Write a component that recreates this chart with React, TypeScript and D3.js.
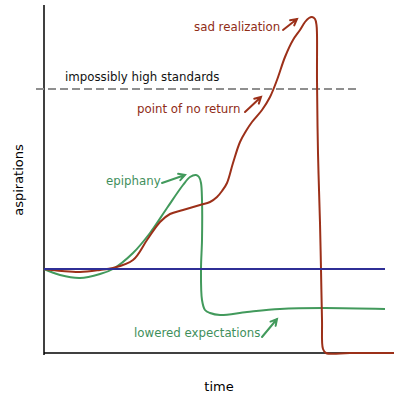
import { useEffect, useRef } from 'react';
import * as d3 from 'd3';

type Pt = [number, number];

// curves, in chart units (x = time, y = aspirations)
const REALITY: Pt[] = [
    [0, 84], [18, 82], [36, 81], [56, 83], [69, 85], [89, 93], [103, 113], [116, 131],
    [126, 139], [139, 143], [156, 148], [166, 151], [173, 156], [178, 162], [183, 170],
    [189, 190], [196, 211], [202, 222], [208, 231], [218, 243], [226, 256], [233, 273],
    [241, 296], [249, 313], [256, 323], [261, 331], [265, 335], [268, 336], [271, 334],
    [272.5, 328], [273, 318], [273, 273], [274, 200], [276, 130], [277, 84],
    [278, 33], [279, 4], [282, 0], [306, 0], [350, 0],
];
const HOPE: Pt[] = [
    [0, 84], [16, 78], [36, 75], [56, 79], [69, 84], [89, 100], [106, 120], [123, 145],
    [139, 168], [146, 176], [152, 178], [155, 176], [157, 170], [158, 153], [158, 113], [157, 84],
    [158, 53], [161, 43], [166, 40], [176, 38], [203, 41], [236, 44], [279, 45], [341, 44],
];
const BASELINE: Pt[] = [[0, 84], [341, 84]];
const STANDARDS: Pt[] = [[-8, 264], [314, 264]];

const LABELS = ['sad realization', 'impossibly high standards', 'point of no return', 'epiphany', 'lowered expectations'];
const LABEL_POS: Pt[] = [[150, 322], [21, 272], [93, 240], [62, 168], [90, 16]];
const LABEL_COLORS = ['#8f2c16', '#111', '#8f2c16', '#3f8f5c', '#3f8f5c'];
const ARROW_COLORS = ['#9c3019', '', '#9c3019', '#429a5c', '#429a5c'];
const ARROWS: ([Pt, Pt] | null)[] = [
    [[239, 323], [253, 334]], null, [[201, 241], [217, 256]], [[118, 170], [141, 178]], [[218, 16], [233, 34]],
];

const RED = '#9c3019';
const GREEN = '#429a5c';
const BLUE = '#2f2f96';

export default function App() {
    const svgRef = useRef<SVGSVGElement>(null);
    const W = 400, H = 400;

    useEffect(() => {
        if (!svgRef.current) return;
        const svg = d3.select(svgRef.current);
        svg.selectAll('*').remove();

        const x = d3.scaleLinear().domain([0, 350]).range([44, 394]);
        const y = d3.scaleLinear().domain([0, 348]).range([353, 5]);
        const line = d3.line<Pt>().x(d => x(d[0])).y(d => y(d[1]));
        const smooth = d3.line<Pt>().x(d => x(d[0])).y(d => y(d[1])).curve(d3.curveCatmullRom.alpha(0.5));
        const font = 'Verdana, "DejaVu Sans", sans-serif';

        // axes
        svg.append('path').attr('d', line([[0, 348], [0, -2]])).attr('stroke', '#000').attr('stroke-width', 1.5).attr('fill', 'none');
        svg.append('path').attr('d', line([[0, 0], [350, 0]])).attr('stroke', '#000').attr('stroke-width', 1.5).attr('fill', 'none');

        svg.append('path').attr('d', line(STANDARDS)).attr('stroke', '#8f8f8f').attr('stroke-width', 2)
            .attr('stroke-dasharray', '8,4').attr('fill', 'none');

        svg.append('path').attr('d', smooth(HOPE)).attr('stroke', GREEN).attr('stroke-width', 2).attr('fill', 'none');
        svg.append('path').attr('d', smooth(REALITY)).attr('stroke', RED).attr('stroke-width', 2).attr('fill', 'none');
        svg.append('path').attr('d', line(BASELINE)).attr('stroke', BLUE).attr('stroke-width', 2).attr('fill', 'none');

        LABELS.forEach((t, i) => {
            svg.append('text').attr('x', x(LABEL_POS[i][0])).attr('y', y(LABEL_POS[i][1]))
                .attr('font-family', font).attr('font-size', 11.8).attr('fill', LABEL_COLORS[i]).text(t);
            const a = ARROWS[i];
            if (!a) return;
            const [p0, p1] = a.map(p => [x(p[0]), y(p[1])]);
            const ang = Math.atan2(p1[1] - p0[1], p1[0] - p0[0]);
            const hl = 7;
            const h1 = [p1[0] - hl * Math.cos(ang - 0.5), p1[1] - hl * Math.sin(ang - 0.5)];
            const h2 = [p1[0] - hl * Math.cos(ang + 0.5), p1[1] - hl * Math.sin(ang + 0.5)];
            svg.append('path')
                .attr('d', `M${p0}L${p1}M${h1}L${p1}L${h2}`)
                .attr('stroke', ARROW_COLORS[i])
                .attr('stroke-width', 2).attr('fill', 'none').attr('stroke-linecap', 'round');
        });

        svg.append('text').attr('x', 219).attr('y', 391).attr('text-anchor', 'middle')
            .attr('font-family', font).attr('font-size', 13).attr('fill', '#000').text('time');
        svg.append('text').attr('transform', 'translate(23,180) rotate(-90)').attr('text-anchor', 'middle')
            .attr('font-family', font).attr('font-size', 13).attr('fill', '#000').text('aspirations');
    }, []);

    return (
        <div style={{ position: 'fixed', left: 0, top: 0, width: W, height: H, background: '#fff' }}>
            <svg ref={svgRef} width={W} height={H} />
        </div>
    );
}
